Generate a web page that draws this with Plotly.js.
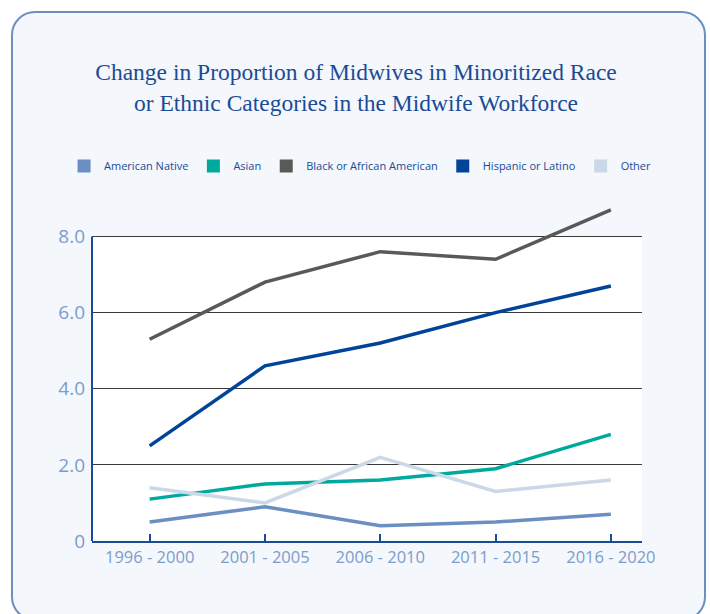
<!DOCTYPE html>
<html>
<head>
<meta charset="utf-8">
<script src="https://cdn.plot.ly/plotly-3.0.1.min.js"></script>
<style>
  html, body { margin: 0; padding: 0; background: #ffffff; }
  #card { position: absolute; left: 11px; top: 11px; width: 695px; height: 610px;
          border: 2px solid #6a8fc0; border-radius: 24px; background: #f4f7fc; box-sizing: border-box; }
  #chart { position: absolute; left: 0; top: 0; width: 710px; height: 614px; }
</style>
</head>
<body>
<div id="card"></div>
<div id="chart"></div>
<script>
const periods = ["1996 - 2000", "2001 - 2005", "2006 - 2010", "2011 - 2015", "2016 - 2020"];
const seriesNames = ["American Native", "Asian", "Black or African American", "Hispanic or Latino", "Other"];
const americanNative = [0.5, 0.9, 0.4, 0.5, 0.7];
const asian = [1.1, 1.5, 1.6, 1.9, 2.8];
const blackAfricanAmerican = [5.3, 6.8, 7.6, 7.4, 8.7];
const hispanicLatino = [2.5, 4.6, 5.2, 6.0, 6.7];
const other = [1.4, 1.0, 2.2, 1.3, 1.6];
const yTickVals = [0, 2, 4, 6, 8];
const yTickText = ["0", "2.0", "4.0", "6.0", "8.0"];

const colors = ["#6a8fc0", "#00a99d", "#595959", "#00449a", "#cbd8e8"];
const values = [americanNative, asian, blackAfricanAmerican, hispanicLatino, other];

const traces = [];
values.forEach((v, i) => {
  traces.push({
    type: "scatter", mode: "lines", x: periods, y: v, name: seriesNames[i],
    line: { color: colors[i], width: 3.5 }, showlegend: false
  });
});
values.forEach((v, i) => {
  traces.push({
    type: "scatter", mode: "markers", x: [null], y: [null], name: seriesNames[i],
    marker: { symbol: "square", size: 13, color: colors[i] }, showlegend: true
  });
});

const plotLeft = 91.5, plotWidth = 551, plotTop = 205.9, plotHeight = 334.8;

const layout = {
  width: 710, height: 614,
  paper_bgcolor: "rgba(0,0,0,0)",
  plot_bgcolor: "rgba(0,0,0,0)",
  margin: { l: 91.5, r: 67.5, t: 206, b: 73.3 },
  title: {
    text: "Change in Proportion of Midwives in Minoritized Race<br>or Ethnic Categories in the Midwife Workforce",
    font: { family: "Liberation Serif, serif", size: 23.5, color: "#1a4b96" },
    x: 356 / 710, xref: "container", xanchor: "center",
    y: 1 - 80 / 614, yref: "container", yanchor: "middle"
  },
  showlegend: true,
  legend: {
    orientation: "h", xref: "paper", yref: "paper",
    x: (63.5 - plotLeft) / plotWidth, xanchor: "left",
    y: 1 + (plotTop - 166) / plotHeight, yanchor: "middle",
    font: { family: "Open Sans, sans-serif", size: 11, color: "#1a4b96" },
    bgcolor: "rgba(0,0,0,0)", itemwidth: 30, traceorder: "normal"
  },
  xaxis: {
    type: "category", range: [-0.5, 4.27],
    showgrid: false, zeroline: false,
    showline: true, linecolor: "#1a4b96", linewidth: 2,
    ticks: "inside", ticklen: 7, tickwidth: 2, tickcolor: "#1a4b96",
    tickfont: { family: "Open Sans, sans-serif", size: 16.5, color: "#7b9dcb" },
    fixedrange: true
  },
  yaxis: {
    range: [0, 8.8], tickvals: yTickVals, ticktext: yTickText,
    showgrid: true, gridcolor: "#3a3a3a", gridwidth: 1,
    zeroline: false, showline: false,
    ticks: "", ticklabelstandoff: 6,
    tickfont: { family: "Open Sans, sans-serif", size: 19, color: "#7b9dcb" },
    fixedrange: true
  },
  shapes: [{
    type: "rect", xref: "paper", yref: "y", x0: 0, x1: 1, y0: 0, y1: 8,
    fillcolor: "#ffffff", line: { width: 0 }, layer: "below"
  }, {
    type: "line", xref: "paper", yref: "y", x0: 0, x1: 0, y0: 0, y1: 8,
    line: { color: "#1a4b96", width: 2 }, layer: "above"
  }]
};

Plotly.newPlot("chart", traces, layout, { displayModeBar: false, staticPlot: true });
</script>
</body>
</html>
